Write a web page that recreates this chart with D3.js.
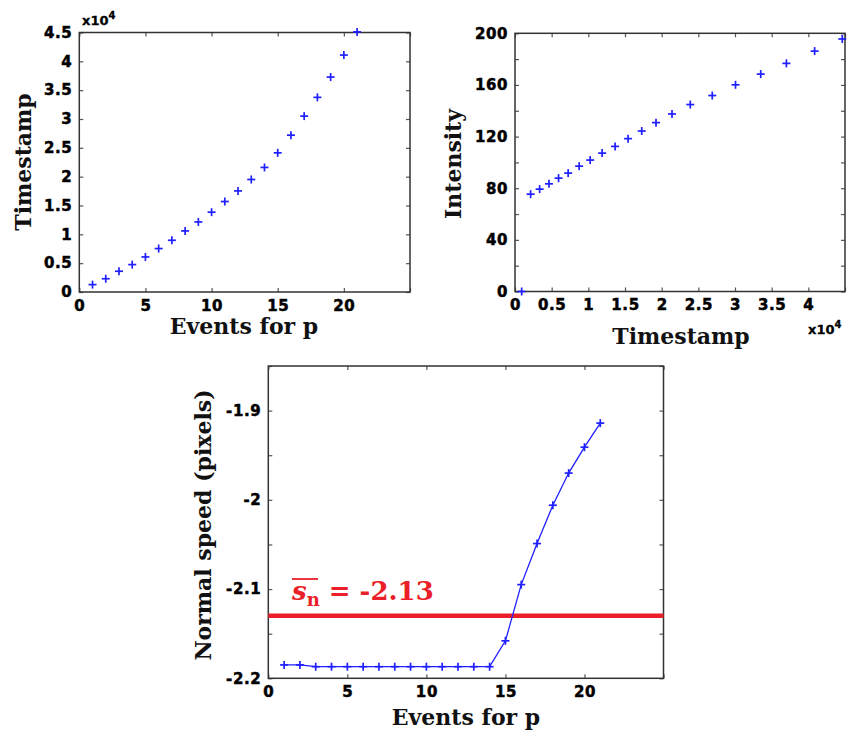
<!DOCTYPE html>
<html><head><meta charset="utf-8">
<script src="https://cdn.jsdelivr.net/npm/d3@7"></script>
<style>
body{margin:0;background:#fff;}
svg{display:block;}
.title{font-family:"DejaVu Serif",serif;font-weight:bold;font-size:22px;fill:#111;}
</style></head>
<body>
<svg id="chart" width="850" height="736"></svg>
<script>
// ---- data ----
const events = d3.range(1, 22); // 1..21
const timestamps = [1280, 2300, 3600, 4750, 6080, 7530, 8970, 10590, 12150, 13840, 15690,
  17530, 19510, 21600, 24130, 27200, 30500, 33750, 37270, 41090, 45100];
const tsX = [910, 2130, 3360, 4630, 5940, 7250, 8750, 10250, 11880, 13650, 15420,
  17280, 19230, 21410, 23900, 26900, 30070, 33510, 37010, 40860, 44630];
const intensity = [0, 75.4, 79.3, 83.4, 87.8, 91.7, 97.1, 101.8, 107.2, 112.4, 118.4,
  124.3, 130.8, 137.5, 144.8, 151.8, 160.1, 168.4, 176.7, 186.2, 195.6];
const normalSpeed = [-2.185, -2.185, -2.187, -2.187, -2.187, -2.187, -2.187, -2.187, -2.187,
  -2.187, -2.187, -2.187, -2.187, -2.187, -2.158, -2.095, -2.049, -2.006, -1.970, -1.941, -1.914];
const meanSpeed = -2.13;
const tlXTicks = [0, 5, 10, 15, 20, 25];
const tlYTicks = d3.range(0, 45001, 5000);
const trXTicks = d3.range(0, 45001, 5000);
const trYTicks = d3.range(0, 201, 20);
const bXTicks = [0, 5, 10, 15, 20, 25];
const bYTicks = [-2.2, -2.15, -2.1, -2.05, -2.0, -1.95, -1.9, -1.85];

const svg = d3.select("#chart");
const BLUE = "#1f1fff", RED = "#ea1f29";

function panel(o) {
  const g = svg.append("g");
  const x = d3.scaleLinear().domain(o.xd).range([o.l, o.r]);
  const y = d3.scaleLinear().domain(o.yd).range([o.b, o.t]);
  const ts = -4;
  const ax = g.append("g").attr("transform", `translate(0,${o.b})`)
    .call(d3.axisBottom(x).tickValues(o.xt).tickSize(ts).tickPadding(8).tickFormat(o.xf));
  const ay = g.append("g").attr("transform", `translate(${o.l},0)`)
    .call(d3.axisLeft(y).tickValues(o.yt).tickSize(ts).tickPadding(7).tickFormat(o.yf));
  const at = g.append("g").attr("transform", `translate(0,${o.t})`)
    .call(d3.axisTop(x).tickValues(o.xt).tickSize(ts).tickFormat(""));
  const ar = g.append("g").attr("transform", `translate(${o.r},0)`)
    .call(d3.axisRight(y).tickValues(o.yt).tickSize(ts).tickFormat(""));
  [ax, ay, at, ar].forEach(a => {
    a.select(".domain").remove();
    a.selectAll(".tick line").attr("stroke", "#555").attr("stroke-width", 1.2);
    a.selectAll(".tick text").attr("font-family", "DejaVu Sans, sans-serif")
      .attr("font-weight", "bold").attr("font-size", 15).attr("letter-spacing", 0.6)
      .attr("fill", "#000").attr("stroke", "#000").attr("stroke-width", 0.5);
  });
  g.append("rect").attr("x", o.l).attr("y", o.t).attr("width", o.r - o.l).attr("height", o.b - o.t)
    .attr("fill", "none").attr("stroke", "#333").attr("stroke-width", 1.5);
  return {g, x, y};
}

function plusMarks(g, x, y, xs, ys, size) {
  const s = size || 4;
  const m = g.append("g").attr("stroke", BLUE).attr("stroke-width", 1.7);
  xs.forEach((xv, i) => {
    const px = x(xv), py = y(ys[i]);
    m.append("line").attr("x1", px - s).attr("x2", px + s).attr("y1", py).attr("y2", py);
    m.append("line").attr("x1", px).attr("x2", px).attr("y1", py - s).attr("y2", py + s);
  });
}

function sci(g, xpos, ypos) {
  const t = g.append("text").attr("x", xpos).attr("y", ypos)
    .attr("font-family", "DejaVu Sans, sans-serif").attr("font-weight", "bold")
    .attr("font-size", 13).attr("fill", "#000").attr("stroke", "#000").attr("stroke-width", 0.3);
  t.append("tspan").text("x10");
  t.append("tspan").attr("dy", -6).attr("font-size", 10).text("4");
}

function fmtTenth(d) {
  const r = Math.round(d * 100);
  return r % 10 === 0 ? String(r / 100) : "";
}

// ---- top-left: Timestamp vs events ----
const P1 = panel({l: 79.3, r: 410, t: 32.5, b: 292, xd: [0, 25], yd: [0, 45000],
  xt: tlXTicks, yt: tlYTicks, xf: d => d === 25 ? "" : String(d), yf: d => String(d / 10000)});
plusMarks(P1.g, P1.x, P1.y, events, timestamps, 4);
sci(P1.g, 82, 25);
P1.g.append("text").attr("class", "title").attr("x", 244).attr("y", 334).attr("text-anchor", "middle").text("Events for p");
P1.g.append("text").attr("class", "title").attr("transform", "translate(31,162) rotate(-90)").attr("text-anchor", "middle").text("Timestamp");

// ---- top-right: Intensity vs timestamp ----
const P2 = panel({l: 515, r: 845, t: 33.3, b: 291.5, xd: [0, 45000], yd: [0, 200],
  xt: trXTicks, yt: trYTicks, xf: d => d === 45000 ? "" : String(d / 10000), yf: d => d % 40 === 0 ? String(d) : ""});
plusMarks(P2.g, P2.x, P2.y, tsX, intensity, 4);
sci(P2.g, 808, 334);
P2.g.append("text").attr("class", "title").attr("x", 681).attr("y", 344).attr("text-anchor", "middle").text("Timestamp");
P2.g.append("text").attr("class", "title").attr("transform", "translate(461,164) rotate(-90)").attr("text-anchor", "middle").text("Intensity");

// ---- bottom: normal speed ----
const P3 = panel({l: 268.3, r: 663.5, t: 366, b: 678.3, xd: [0, 25], yd: [-2.2, -1.85],
  xt: bXTicks, yt: bYTicks, xf: d => d === 25 ? "" : String(d), yf: fmtTenth});
P3.g.append("line").attr("x1", P3.x(0)).attr("x2", P3.x(25))
  .attr("y1", P3.y(meanSpeed)).attr("y2", P3.y(meanSpeed))
  .attr("stroke", RED).attr("stroke-width", 4.5);
P3.g.append("path").datum(events)
  .attr("fill", "none").attr("stroke", BLUE).attr("stroke-width", 1.3)
  .attr("d", d3.line().x(d => P3.x(d)).y((d, i) => P3.y(normalSpeed[i])));
plusMarks(P3.g, P3.x, P3.y, events, normalSpeed, 4);
P3.g.append("text").attr("class", "title").attr("x", 466).attr("y", 725).attr("text-anchor", "middle").text("Events for p");
P3.g.append("text").attr("class", "title").attr("transform", "translate(211,525) rotate(-90)").attr("text-anchor", "middle").text("Normal speed (pixels)");

// mean label
const lab = P3.g.append("text").attr("x", 292).attr("y", 600)
  .attr("font-family", "DejaVu Serif, serif").attr("font-weight", "bold")
  .attr("font-size", 26).attr("fill", RED);
lab.append("tspan").attr("font-style", "italic").text("s");
lab.append("tspan").attr("dy", 6).attr("font-size", 18).text("n");
lab.append("tspan").attr("dy", -6).text(" = -" + Math.abs(meanSpeed).toFixed(2));
P3.g.append("line").attr("x1", 292).attr("x2", 318).attr("y1", 579).attr("y2", 579)
  .attr("stroke", RED).attr("stroke-width", 1.8);
</script>
</body></html>
